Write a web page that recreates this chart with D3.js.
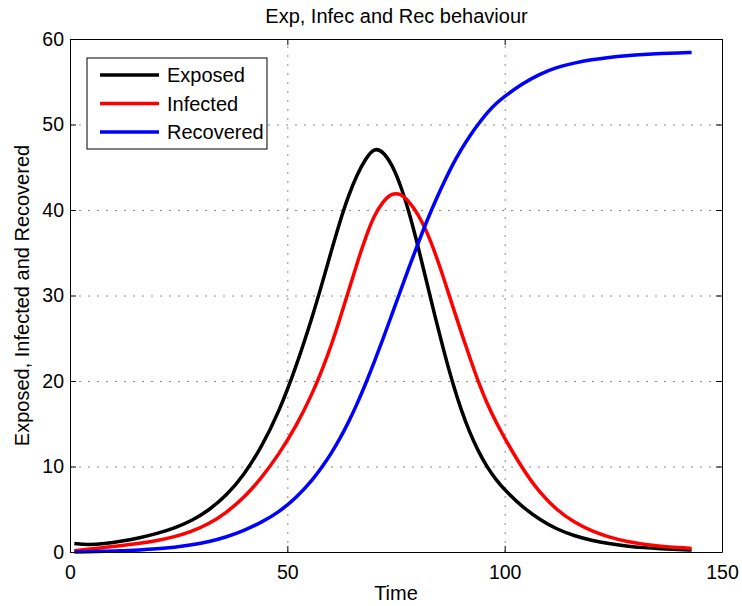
<!DOCTYPE html>
<html>
<head>
<meta charset="utf-8">
<script src="https://cdn.jsdelivr.net/npm/d3@7"></script>
<style>
  html, body { margin: 0; padding: 0; background: #fff; }
  svg { display: block; font-family: "Liberation Sans", Arial, sans-serif; }
</style>
</head>
<body>
<svg id="chart" width="742" height="606"></svg>
<script>
// ---- data ----
const time = [1, 4, 8, 12, 16, 20, 24, 28, 32, 36, 40, 44, 48, 52, 56, 58, 60, 62, 64, 66, 68, 70, 72, 74, 76, 78, 80, 82, 84, 86, 88, 90, 92, 94, 96, 98, 100, 104, 108, 112, 116, 120, 124, 128, 132, 136, 140, 143];
const exposed = [1.0, 0.83, 0.97, 1.27, 1.65, 2.15, 2.8, 3.65, 4.9, 6.6, 9.0, 12.2, 16.3, 21.6, 27.9, 31.4, 35.0, 38.5, 41.6, 44.1, 46.0, 47.3, 46.85, 45.4, 43.0, 39.8, 35.9, 31.7, 27.5, 23.5, 19.8, 16.6, 13.9, 11.7, 9.9, 8.45, 7.25, 5.3, 3.8, 2.65, 1.9, 1.35, 0.97, 0.7, 0.5, 0.37, 0.28, 0.23];
const infected = [0.15, 0.32, 0.54, 0.76, 1.0, 1.32, 1.76, 2.4, 3.3, 4.6, 6.35, 8.6, 11.4, 14.65, 18.8, 21.3, 24.0, 27.1, 30.4, 33.7, 36.8, 39.4, 41.0, 41.95, 41.95, 41.0, 39.6, 37.6, 35.0, 32.0, 28.8, 25.7, 22.7, 19.8, 17.3, 15.2, 13.3, 9.8, 6.95, 4.9, 3.45, 2.45, 1.73, 1.23, 0.9, 0.67, 0.5, 0.42];
const recovered = [0.0, 0.03, 0.08, 0.15, 0.24, 0.37, 0.55, 0.82, 1.2, 1.75, 2.5, 3.45, 4.65, 6.3, 8.55, 9.95, 11.45, 13.15, 15.1, 17.25, 19.65, 22.2, 24.9, 27.7, 30.5, 33.3, 36.0, 38.6, 41.0, 43.2, 45.3, 47.1, 48.7, 50.1, 51.4, 52.45, 53.3, 54.75, 55.9, 56.7, 57.2, 57.58, 57.85, 58.05, 58.2, 58.3, 58.38, 58.43];
const seriesNames = ["Exposed", "Infected", "Recovered"];
const seriesColors = ["#000000", "#ff0000", "#0000ff"];
const xTicks = [0, 50, 100, 150];
const yTicks = [0, 10, 20, 30, 40, 50, 60];
const titleText = "Exp, Infec and Rec behaviour";
const xLabel = "Time";
const yLabel = "Exposed, Infected and Recovered";

// ---- layout ----
const svg = d3.select("#chart");
const L = 70, R = 722, T = 39, B = 552;
const W = R - L, H = B - T;
const FS = 20, TFS = 19.5;

const x = d3.scaleLinear().domain([0, 150]).range([L, R]);
const y = d3.scaleLinear().domain([0, 60]).range([B, T]);

// grid
const gridStyle = g => {
  g.select(".domain").remove();
  g.selectAll(".tick line").attr("stroke", "#8a8a8a").attr("stroke-width", 1)
    .attr("stroke-dasharray", "2,7");
  g.selectAll("text").remove();
};
svg.append("g").attr("transform", `translate(0,${B})`)
  .call(d3.axisBottom(x).tickValues(xTicks.filter(v => v > 0 && v < 150)).tickSize(-H).tickFormat(""))
  .call(gridStyle);
svg.append("g").attr("transform", `translate(${L},0)`)
  .call(d3.axisLeft(y).tickValues(yTicks.filter(v => v > 0 && v < 60)).tickSize(-W).tickFormat(""))
  .call(gridStyle);

// curves
const data = [exposed, infected, recovered];
const line = d3.line()
  .x((d, i) => x(time[i]))
  .y(d => y(d))
  .curve(d3.curveBasis);
const plot = svg.append("g");
data.forEach((vals, k) => {
  plot.append("path").datum(vals)
    .attr("d", line)
    .attr("fill", "none")
    .attr("stroke", seriesColors[k])
    .attr("stroke-width", 3.5)
    .attr("stroke-linejoin", "round")
    .attr("stroke-linecap", "butt");
});

// axes
const axStyle = g => {
  g.selectAll(".domain").attr("stroke", "#000").attr("stroke-width", 1);
  g.selectAll(".tick line").attr("stroke", "#000");
  g.selectAll("text").attr("font-size", TFS).attr("fill", "#000")
    .attr("font-family", "Liberation Sans, Arial, sans-serif");
};
svg.append("g").attr("transform", `translate(0,${B})`)
  .call(d3.axisBottom(x).tickValues(xTicks).tickSizeInner(-6).tickSizeOuter(0).tickPadding(13))
  .call(axStyle);
svg.append("g").attr("transform", `translate(${L},0)`)
  .call(d3.axisLeft(y).tickValues(yTicks).tickSizeInner(-6).tickSizeOuter(0).tickPadding(6))
  .call(axStyle);
svg.append("g").attr("transform", `translate(0,${T})`)
  .call(d3.axisTop(x).tickValues(xTicks).tickSizeInner(-6).tickSizeOuter(0).tickFormat(""))
  .call(axStyle);
svg.append("g").attr("transform", `translate(${R},0)`)
  .call(d3.axisRight(y).tickValues(yTicks).tickSizeInner(-6).tickSizeOuter(0).tickFormat(""))
  .call(axStyle);

// title & labels
svg.append("text").attr("x", (L + R) / 2 + 0.5).attr("y", 23)
  .attr("text-anchor", "middle").attr("font-size", FS).text(titleText);
svg.append("text").attr("x", (L + R) / 2).attr("y", 600)
  .attr("text-anchor", "middle").attr("font-size", FS).text(xLabel);
svg.append("text").attr("transform", `translate(29,${(T + B) / 2}) rotate(-90)`)
  .attr("text-anchor", "middle").attr("font-size", FS).text(yLabel);

// legend
const lg = svg.append("g");
lg.append("rect").attr("x", 87).attr("y", 58).attr("width", 180).attr("height", 91)
  .attr("fill", "#fff").attr("stroke", "#000").attr("stroke-width", 1);
seriesNames.forEach((name, k) => {
  const cy = 75 + k * 28.5;
  lg.append("line").attr("x1", 100).attr("x2", 159).attr("y1", cy).attr("y2", cy)
    .attr("stroke", seriesColors[k]).attr("stroke-width", 3.5);
  lg.append("text").attr("x", 167).attr("y", cy).attr("dy", "0.35em")
    .attr("font-size", FS).text(name);
});
</script>
</body>
</html>
